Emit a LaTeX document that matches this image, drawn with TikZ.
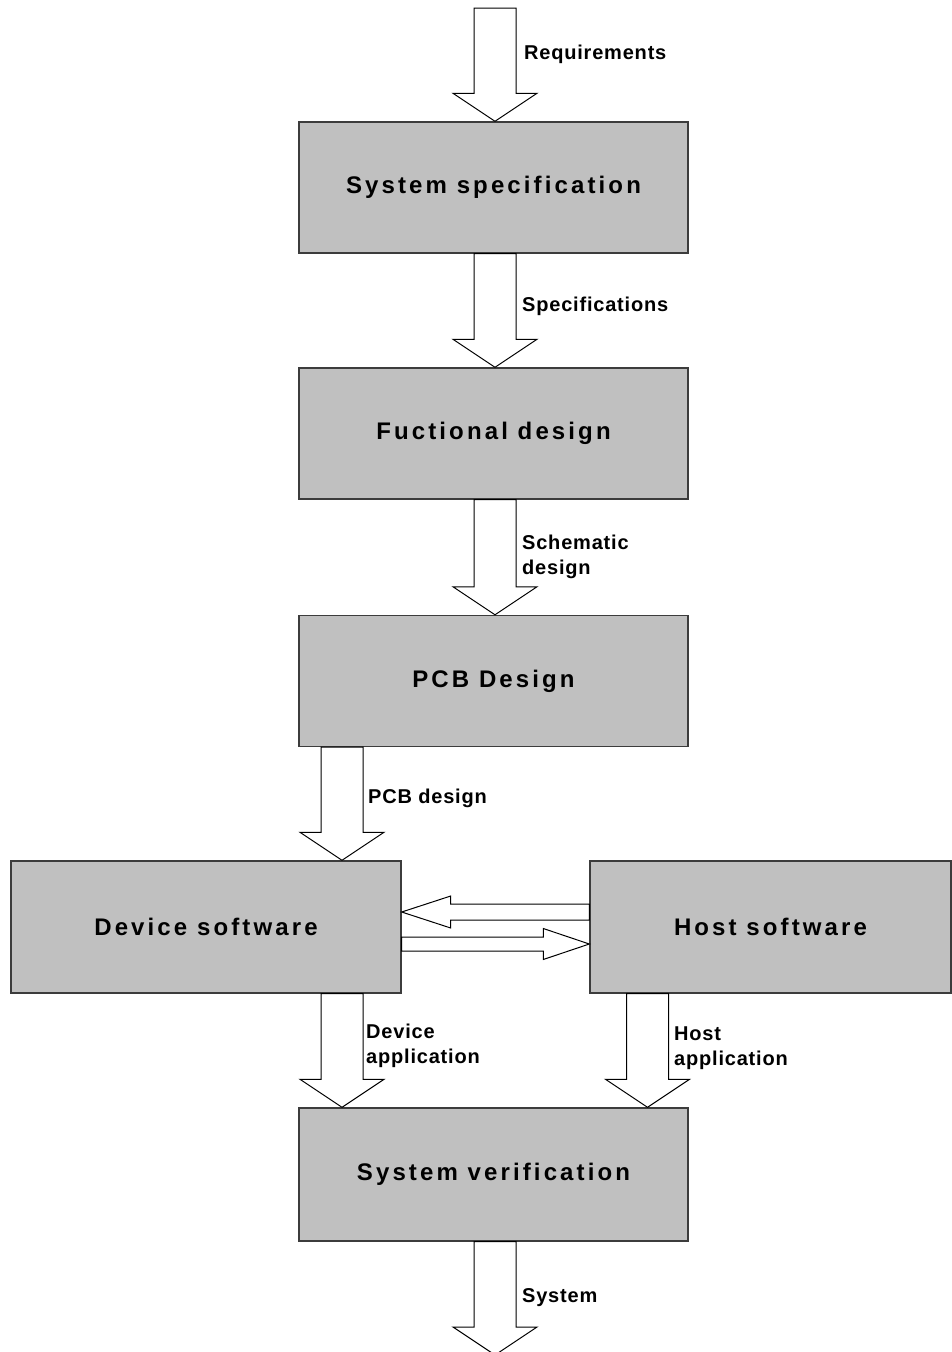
\documentclass[tikz,border=0pt]{standalone}
\usepackage{fontspec}
\setmainfont{Liberation Sans}
\newfontfamily\boxfont[LetterSpace=13]{Liberation Sans Bold}
\newfontfamily\lblfont[LetterSpace=4]{Liberation Sans Bold}
\usetikzlibrary{calc}
\definecolor{boxgray}{RGB}{192,192,192}
\definecolor{edgegray}{RGB}{60,60,60}
\tikzset{
  stage/.style={draw=edgegray, line width=1.4pt, fill=boxgray, minimum width=389pt, minimum height=131pt, inner sep=0pt, font=\boxfont\fontsize{24pt}{28pt}\selectfont},
  lbl/.style={anchor=west, inner sep=0pt, align=left, font=\lblfont\fontsize{20pt}{25pt}\selectfont},
  blk/.style={draw=black, line width=1pt, fill=white, line join=miter}
}
\begin{document}
\begin{tikzpicture}[x=1pt,y=-1pt]
\useasboundingbox (0,0) rectangle (951,1352);
% boxes
\node[stage] (spec) at (493.5,187.5) {System specification};
\node[stage] (func) at (493.5,433.5) {Fuctional design};
\node[stage] (pcb) at (493.5,681) {PCB Design};
\node[stage, minimum width=390pt, minimum height=132pt] (dev) at (206,927) {Device software};
\node[stage, minimum width=361pt, minimum height=132pt] (host) at (770.5,927) {Host software};
\node[stage, minimum height=133pt] (ver) at (493.5,1174.5) {System verification};
% free ends and columns
\coordinate (req) at (495,8);
\coordinate (out) at (495,1355);
\coordinate (cmid) at (495,0);
\coordinate (cdev) at (342,0);
\coordinate (chost) at (647.5,0);
% vertical block arrows: first = shaft top, second = tip
\newcommand{\vblk}[2]{%
  \draw[blk] let \p1=(#1), \p2=(#2) in
    (\x1-21pt,\y1) -- (\x1-21pt,\y2+28pt) -- (\x1-42pt,\y2+28pt) -- (\x1,\y2)
    -- (\x1+42pt,\y2+28pt) -- (\x1+21pt,\y2+28pt) -- (\x1+21pt,\y1) -- cycle;}
\vblk{req}{spec.north -| cmid}
\vblk{spec.south -| cmid}{func.north -| cmid}
\vblk{func.south -| cmid}{pcb.north -| cmid}
\vblk{pcb.south -| cdev}{dev.north -| cdev}
\vblk{dev.south -| cdev}{ver.north -| cdev}
\vblk{host.south -| chost}{ver.north -| chost}
\vblk{ver.south -| cmid}{out}
% horizontal arrows
\draw[blk] let \p1=(host.west), \p2=(dev.east) in
  (\x1,\y1+15pt+8pt) -- (\x2+49pt,\y1+15pt+8pt) -- (\x2+49pt,\y1+15pt+16pt) -- (\x2,\y1+15pt)
  -- (\x2+49pt,\y1+15pt-16pt) -- (\x2+49pt,\y1+15pt-8pt) -- (\x1,\y1+15pt-8pt) -- cycle;
\draw[blk] let \p1=(dev.east), \p2=(host.west) in
  (\x1,\y1-17pt+7pt) -- (\x2-46pt,\y1-17pt+7pt) -- (\x2-46pt,\y1-17pt+15.5pt) -- (\x2,\y1-17pt)
  -- (\x2-46pt,\y1-17pt-15.5pt) -- (\x2-46pt,\y1-17pt-7pt) -- (\x1,\y1-17pt-7pt) -- cycle;
% labels
\node[lbl] (lreq) at (524,54) {Requirements};
\node[lbl] (lspec) at (522,306) {Specifications};
\node[lbl] (lsch) at (522,557) {Schematic\\design};
\node[lbl] (lpcb) at (368,798) {PCB design};
\node[lbl] (ldev) at (366,1046) {Device\\application};
\node[lbl] (lhost) at (674,1048) {Host\\application};
\node[lbl] (lsys) at (522,1298) {System};
\end{tikzpicture}
\end{document}
